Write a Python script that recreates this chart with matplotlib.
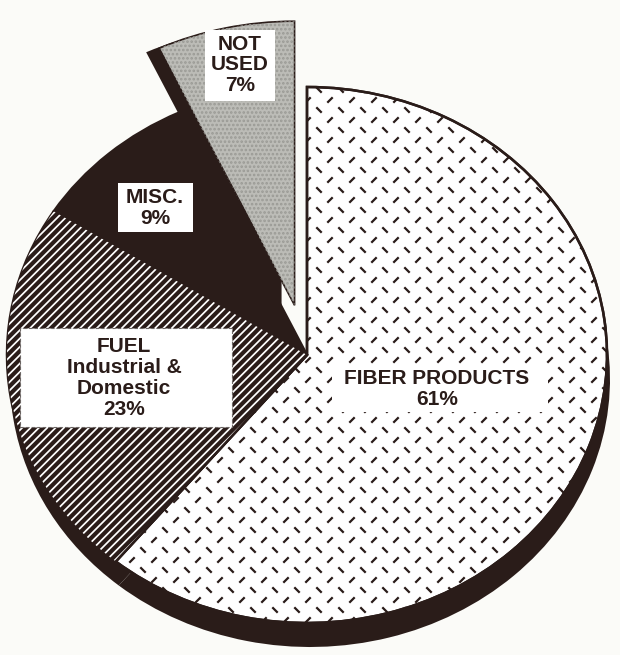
import numpy as np
import matplotlib
matplotlib.use('Agg')
import matplotlib.pyplot as plt
from matplotlib.patches import Wedge, Rectangle
from matplotlib.collections import LineCollection

# ── Data ─────────────────────────────────────────────────────────────────────
labels = ['FIBER PRODUCTS\n61%', 'FUEL\nIndustrial &\nDomestic\n23%', 'MISC.\n9%', 'NOT\nUSED\n7%']
shares = [61, 23, 9, 7]

DARK = '#2a1c19'
BG = '#fbfbf8'
GRAY = '#bcbcb7'

# ── Layout (pixels of the 620x655 figure) ────────────────────────────────────
W, H = 620, 655
CX, CY = 307, 355          # pie centre
RX, RY = 300, 268          # pie radii (scan is slightly squashed)

fig = plt.figure(figsize=(W / 100, H / 100), dpi=100)
fig.patch.set_facecolor(BG)
ax = fig.add_axes([0, 0, 1, 1])
ax.set_facecolor(BG)

def dpx(dx, dy):
    """pixel offset -> data offset (y down in pixels)"""
    return dx / RX, -dy / RY

# shadow under the main pie
sh, _ = ax.pie(shares, startangle=90, counterclock=False, radius=1.0,
               center=dpx(3, 24), colors=[DARK] * 4,
               wedgeprops=dict(linewidth=0))
sh[3].set_visible(False)

# side wall of the pulled-out slice
explode = [0.0, 0.0, 0.0, 0.19]
sh2, _ = ax.pie(shares, startangle=90, counterclock=False, radius=1.0,
                explode=explode, center=dpx(-13, 4), colors=[DARK] * 4,
                wedgeprops=dict(linewidth=0))
for w in sh2[:3]:
    w.set_visible(False)
sh2[3].set_radius(1.06)

# main pie
wedges, _ = ax.pie(shares, startangle=90, counterclock=False, radius=1.0,
                   explode=explode, colors=['white', DARK, DARK, GRAY],
                   wedgeprops=dict(linewidth=1.8, edgecolor=DARK))
wedges[3].set_radius(1.06)
wedges[3].set_linewidth(1.2)

# fuel: white diagonal lines on dark
matplotlib.rcParams['hatch.linewidth'] = 1.25
fw = wedges[1]
ax.add_patch(Wedge(fw.center, fw.r, fw.theta1, fw.theta2, facecolor='none',
                   edgecolor='white', hatch='////', linewidth=0, zorder=fw.get_zorder()))

# not used: stipple
nw = wedges[3]
ax.add_patch(Wedge(nw.center, nw.r, nw.theta1, nw.theta2, facecolor='none',
                   edgecolor='#9a9a95', hatch='....', linewidth=0, zorder=nw.get_zorder()))

# fiber: little dashes in a herringbone grid, clipped to the slice
segs = []
for j, yy in enumerate(np.arange(60, 660, 10)):
    off = 0 if j % 2 == 0 else 11
    for xx in np.arange(off, 640, 22):
        x0, y0 = (xx - CX) / RX, -(yy - CY) / RY
        s = 2.7
        if j % 2 == 0:   # '/'
            a, b = dpx(-s, s), dpx(s, -s)
        else:            # '\'
            a, b = dpx(-s, -s), dpx(s, s)
        segs.append([(x0 + a[0], y0 + a[1]), (x0 + b[0], y0 + b[1])])
lc = LineCollection(segs, colors=DARK, linewidths=1.6, zorder=wedges[0].get_zorder() + 0.1)
ax.add_collection(lc)
lc.set_clip_path(wedges[0])
# redraw fiber outline above texture
ow = wedges[0]
ax.add_patch(Wedge(ow.center, ow.r, ow.theta1, ow.theta2, facecolor='none',
                   edgecolor=DARK, linewidth=1.8, zorder=ow.get_zorder() + 0.2))

ax.set_aspect('auto')
ax.set_xlim(-CX / RX, (W - CX) / RX)
ax.set_ylim(-(H - CY) / RY, CY / RY)
ax.axis('off')

# ── Label boxes and texts ────────────────────────────────────────────────────
def fbox(x0, y0, x1, y1, dashed=False):
    ax.add_patch(Rectangle((x0 / W, 1 - y1 / H), (x1 - x0) / W, (y1 - y0) / H,
                           transform=fig.transFigure, facecolor='white',
                           edgecolor='#6a6462' if dashed else 'none',
                           linestyle=(0, (3, 2)), linewidth=0.8, zorder=10))

def ftext(x, y, s):
    ax.text(x / W, 1 - y / H, s, transform=fig.transFigure, ha='center', va='center',
            fontsize=15, fontweight='bold', family='Liberation Sans', color=DARK,
            linespacing=1.12, zorder=11)

fbox(332, 364, 548, 412)
ftext(437, 389, labels[0])
fbox(20, 328, 232, 427, dashed=True)
ftext(124, 378, labels[1])
fbox(118, 183, 193, 232)
ftext(155, 208, labels[2])
fbox(205, 30, 275, 101)
ftext(240, 65, labels[3])

fig.savefig('out.png', dpi=100, facecolor=BG)
